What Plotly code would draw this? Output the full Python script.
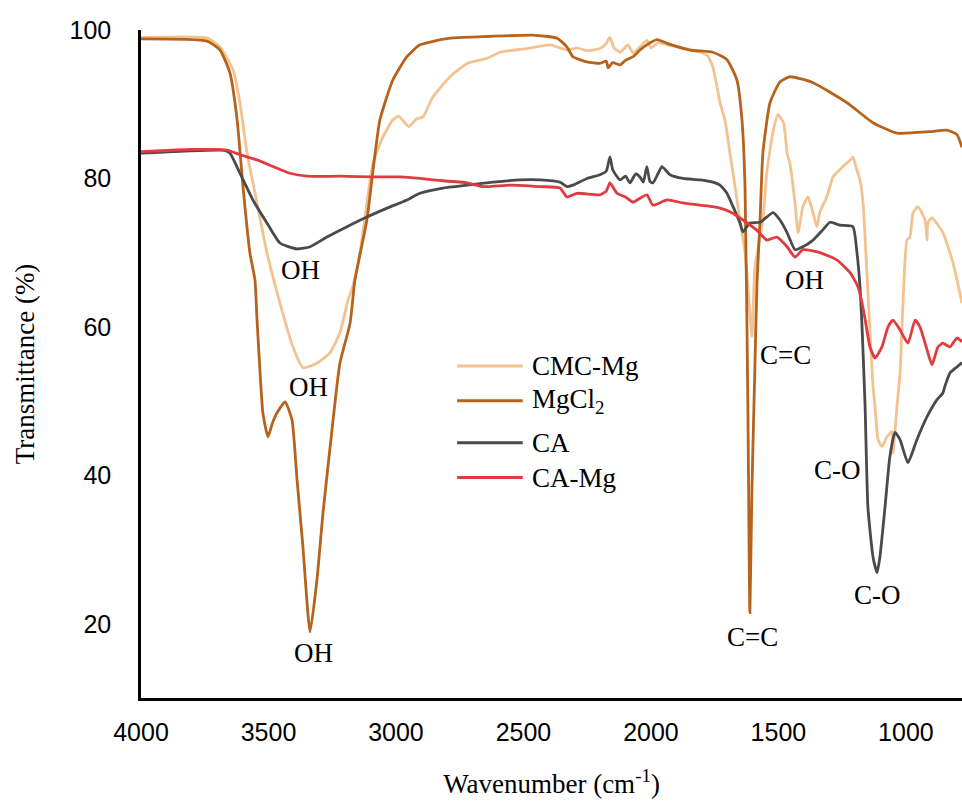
import plotly.graph_objects as go

# FTIR spectra: wavenumber (cm^-1) and transmittance (%)
cmc_mg_wn = [4000, 3741, 3690, 3639, 3612, 3584, 3545, 3506, 3455, 3404, 3365, 3310, 3259, 3220,
             3188, 3169, 3141, 3114, 3090, 3051, 3012, 2990, 2950, 2920, 2894, 2855, 2788, 2721,
             2643, 2592, 2486, 2396, 2329, 2290, 2250, 2200, 2175, 2161, 2145, 2121, 2090, 2070,
             2040, 2016, 2000, 1970, 1937, 1835, 1780, 1757, 1729, 1710, 1690, 1670, 1651, 1631,
             1612, 1604, 1592, 1561, 1545, 1520, 1502, 1480, 1466, 1455, 1435, 1423, 1404, 1384,
             1357, 1349, 1337, 1310, 1286, 1247, 1215, 1208, 1192, 1180, 1168, 1160, 1145, 1129,
             1121, 1109, 1094, 1074, 1055, 1051, 1035, 1023, 1012, 996, 984, 972, 953, 925, 917,
             914, 898, 855, 815, 780]
cmc_mg_t = [99.0, 98.9, 97.7, 94.6, 90.2, 83.4, 76.7, 70.0, 63.2, 57.3, 54.5, 55.1, 56.5, 59.2,
            63.6, 65.5, 70.0, 76.7, 82.1, 85.6, 87.9, 88.4, 87.0, 88.0, 88.3, 91.0, 93.7, 95.5,
            96.2, 97.0, 97.5, 98.0, 97.3, 97.6, 97.2, 97.5, 98.2, 99.0, 97.6, 97.0, 98.0, 96.9,
            97.8, 98.6, 97.6, 98.3, 98.0, 97.3, 96.6, 95.0, 90.2, 87.9, 83.4, 78.9, 74.4, 70.0,
            62.0, 58.7, 68.0, 74.4, 81.0, 86.5, 88.6, 87.5, 83.4, 82.0, 76.7, 72.7, 76.2, 77.5,
            74.4, 73.5, 75.5, 77.5, 80.2, 81.6, 82.6, 82.9, 81.1, 79.8, 76.7, 72.0, 62.0, 52.0,
            49.2, 44.8, 43.9, 45.2, 45.9, 43.0, 49.2, 53.8, 62.7, 71.7, 72.1, 75.4, 76.2, 74.4, 71.7,
            74.0, 74.7, 72.7, 68.6, 63.2]

mgcl2_wn = [4000, 3741, 3690, 3651, 3623, 3600, 3573, 3553, 3545, 3535, 3522, 3502, 3485, 3467,
            3435, 3408, 3388, 3365, 3337, 3310, 3286, 3251, 3220, 3180, 3161, 3114, 3090, 3063,
            3012, 2957, 2906, 2788, 2659, 2463, 2368, 2329, 2306, 2251, 2200, 2175, 2168, 2150,
            2121, 2100, 2070, 2043, 2016, 1976, 1937, 1847, 1757, 1702, 1663, 1643, 1631, 1620,
            1612, 1604, 1592, 1584, 1572, 1561, 1533, 1494, 1455, 1364, 1231, 1129, 1035, 906,
            839, 800, 780]
mgcl2_t = [98.8, 98.5, 97.3, 94.2, 87.9, 78.9, 70.0, 66.3, 61.0, 55.0, 48.4, 45.2, 47.0, 48.4,
           49.9, 47.5, 39.4, 30.4, 18.9, 25.9, 35.0, 46.1, 55.1, 60.5, 66.3, 74.4, 81.1, 87.9,
           93.3, 96.4, 98.0, 98.9, 99.1, 99.3, 98.9, 97.7, 96.4, 95.7, 95.5, 95.8, 94.9, 95.6,
           95.3, 95.9, 96.4, 97.3, 98.0, 98.7, 98.2, 97.3, 97.0, 96.0, 93.3, 87.9, 78.9, 50.0,
           21.5, 38.0, 55.0, 66.0, 74.4, 83.4, 90.2, 93.0, 93.7, 92.9, 90.2, 87.5, 86.1, 86.3,
           86.5, 85.9, 84.2]

ca_wn = [4000, 3678, 3651, 3612, 3561, 3506, 3455, 3388, 3337, 3271, 3192, 3114, 3035, 2957,
         2906, 2816, 2721, 2619, 2514, 2435, 2357, 2329, 2306, 2251, 2200, 2175, 2161, 2149,
         2121, 2100, 2082, 2060, 2043, 2030, 2016, 2004, 1992, 1970, 1957, 1925, 1874, 1808,
         1757, 1729, 1702, 1678, 1651, 1639, 1612, 1572, 1521, 1494, 1466, 1435, 1404, 1364,
         1325, 1298, 1259, 1208, 1192, 1180, 1172, 1160, 1149, 1129, 1113, 1102, 1082, 1063,
         1043, 1023, 992, 957, 917, 878, 855, 847, 827, 800, 780]
ca_t = [83.4, 83.8, 83.4, 80.7, 77.1, 74.0, 71.3, 70.5, 70.8, 72.1, 73.5, 74.8, 76.0, 77.1,
        78.0, 78.7, 79.1, 79.5, 79.8, 79.8, 79.5, 78.9, 79.1, 80.0, 80.5, 81.0, 82.9, 81.1,
        79.8, 80.3, 79.4, 80.6, 80.2, 79.5, 81.6, 79.6, 79.4, 80.8, 81.6, 80.5, 80.0, 79.8,
        79.5, 79.1, 78.0, 76.2, 74.0, 72.8, 74.0, 74.1, 75.4, 74.4, 72.7, 70.4, 70.8, 71.7,
        73.1, 74.1, 73.7, 73.5, 70.0, 65.4, 60.0, 49.2, 35.7, 29.0, 26.9, 29.0, 35.7, 42.5,
        45.8, 44.8, 41.7, 44.8, 47.9, 50.2, 51.1, 52.0, 53.8, 54.6, 55.2]

ca_mg_wn = [4000, 3800, 3663, 3612, 3545, 3482, 3416, 3349, 3220, 3090, 2984, 2906, 2855, 2721,
            2659, 2553, 2435, 2357, 2329, 2290, 2200, 2175, 2161, 2133, 2100, 2070, 2040, 2016,
            1992, 1937, 1874, 1808, 1757, 1729, 1690, 1639, 1584, 1545, 1506, 1466, 1435, 1404,
            1337, 1270, 1219, 1188, 1172, 1160, 1141, 1121, 1094, 1070, 1051, 1023, 992, 964,
            945, 917, 898, 874, 855, 827, 800, 780]
ca_mg_t = [83.6, 83.9, 83.8, 83.2, 82.5, 81.6, 80.7, 80.3, 80.3, 80.2, 80.2, 80.0, 79.8, 79.4,
           78.9, 79.1, 78.9, 78.7, 77.5, 78.0, 77.8, 78.3, 79.4, 78.0, 77.5, 76.8, 77.4, 77.8,
           76.4, 77.1, 76.7, 76.4, 76.2, 76.0, 75.5, 74.4, 73.0, 71.7, 72.1, 70.8, 69.4, 70.4,
           70.0, 69.0, 67.3, 65.4, 63.2, 61.0, 57.3, 55.8, 57.3, 60.0, 60.9, 59.6, 57.8, 60.9,
           60.0, 56.9, 54.9, 57.3, 57.8, 57.3, 58.5, 58.0]

series_names = ["CMC-Mg", "MgCl<sub>2</sub>", "CA", "CA-Mg"]
series_colors = ["#F3C290", "#B5631D", "#4A4A4A", "#E13B40"]
series_data = [(cmc_mg_wn, cmc_mg_t), (mgcl2_wn, mgcl2_t), (ca_wn, ca_t), (ca_mg_wn, ca_mg_t)]

# Band assignments: (wavenumber, transmittance, label)
band_wn = [3376, 3345, 3325, 1474, 1600, 1396, 1270, 1113]
band_t = [67.7, 51.9, 16.1, 56.2, 18.2, 66.3, 40.7, 23.9]
band_text = ["OH", "OH", "OH", "C=C", "C=C", "OH", "C-O", "C-O"]

serif = "Liberation Serif, Times New Roman, serif"
sans = "Liberation Sans, Arial, sans-serif"

fig = go.Figure()
for (wn, t), name, color in zip(series_data, series_names, series_colors):
    fig.add_trace(go.Scatter(x=wn, y=t, mode="lines", name=name,
                             line=dict(color=color, width=2.8, shape="spline", smoothing=0.5),
                             showlegend=False))

for wn, t, txt in zip(band_wn, band_t, band_text):
    fig.add_annotation(x=wn, y=t, text=txt, showarrow=False, xref="x", yref="y",
                       font=dict(family=serif, size=27, color="black"))

# Legend drawn as short line samples with labels
leg_x0, leg_x1, leg_text_x = 0.385, 0.465, 0.474
leg_y = [0.497, 0.445, 0.382, 0.330]
for name, color, ly in zip(series_names, series_colors, leg_y):
    fig.add_shape(type="line", xref="paper", yref="paper", x0=leg_x0, x1=leg_x1, y0=ly, y1=ly,
                  line=dict(color=color, width=3))
    fig.add_annotation(xref="paper", yref="paper", x=leg_text_x, y=ly, text=name, showarrow=False,
                       xanchor="left", yanchor="middle",
                       font=dict(family=serif, size=27, color="black"))

fig.update_layout(
    width=962, height=801,
    margin=dict(l=141, r=0, t=30, b=103),
    paper_bgcolor="white", plot_bgcolor="white",
    showlegend=False,
)
fig.update_xaxes(
    range=[4000, 780], tickvals=[4000, 3500, 3000, 2500, 2000, 1500, 1000],
    showgrid=False, zeroline=False, showline=True, linecolor="black", linewidth=3,
    ticks="", ticklabelstandoff=10, tickfont=dict(family=sans, size=25, color="black"),
    title=dict(text="Wavenumber (cm<sup>-1</sup>)", font=dict(family=serif, size=27, color="black"),
               standoff=30),
)
fig.update_yaxes(
    range=[10, 100], tickvals=[20, 40, 60, 80, 100],
    showgrid=False, zeroline=False, showline=True, linecolor="black", linewidth=2.5,
    ticks="", ticklabelstandoff=22, tickfont=dict(family=sans, size=25, color="black"),
    title=dict(text="Transmittance (%)", font=dict(family=serif, size=27, color="black"),
               standoff=28),
)

fig.write_html("out.html")
